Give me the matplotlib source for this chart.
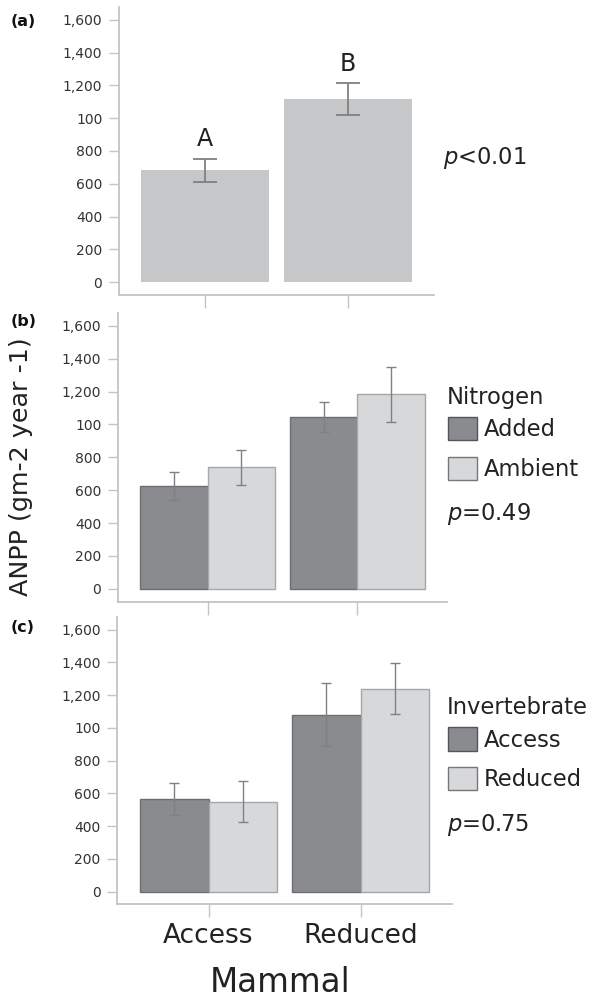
import matplotlib
matplotlib.use("Agg")
import matplotlib.pyplot as plt
from matplotlib.patches import Patch
import numpy as np

# ---------------- data ----------------
mammal = ["Access", "Reduced"]
ytick_vals = [0, 200, 400, 600, 800, 1000, 1200, 1400, 1600]
ytick_labels = ["0", "200", "400", "600", "800", "100", "1,200", "1,400", "1,600"]

# (a) mammal effect
a_mean = [683, 1117]
a_se = [70, 95]
a_letters = ["A", "B"]
a_p = "$p$<0.01"

# (b) nitrogen
nitrogen_levels = ["Added", "Ambient"]
b_added = [625, 1044]
b_added_se = [83, 92]
b_ambient = [739, 1185]
b_ambient_se = [105, 167]
b_p = "$p$=0.49"

# (c) invertebrate
invert_levels = ["Access", "Reduced"]
c_access = [566, 1082]
c_access_se = [100, 192]
c_reduced = [550, 1240]
c_reduced_se = [128, 157]
c_p = "$p$=0.75"

# ---------------- style ----------------
W, H = 592, 997
fig = plt.figure(figsize=(W / 100, H / 100), dpi=100)
plt.rcParams["mathtext.fontset"] = "dejavusans"

spine_col = "#c4c4c4"
txt_col = "#222222"
tick_txt = "#333333"
a_col = "#c6c7c9"
dark_col = "#8a8b8f"
dark_edge = "#6c6d70"
light_col = "#d7d8da"
light_edge = "#a6a7a9"
err_col = "#808080"

def fx(px):
    return px / W

def fy(py):
    return 1 - py / H

def style_axis(ax, show_xlabels=False):
    ax.set_xlim(-0.6, 1.6)
    ax.set_ylim(-78, 1678)
    for s in ["top", "right"]:
        ax.spines[s].set_visible(False)
    for s in ["left", "bottom"]:
        ax.spines[s].set_color(spine_col)
        ax.spines[s].set_linewidth(1.3)
    ax.set_yticks(ytick_vals)
    ax.set_yticklabels(ytick_labels, fontsize=10, color=tick_txt)
    ax.tick_params(axis="y", length=7, width=1, color=spine_col, pad=5)
    ax.set_xticks([0, 1])
    if show_xlabels:
        ax.set_xticklabels(mammal, fontsize=19, color=txt_col)
    else:
        ax.set_xticklabels([])
    ax.tick_params(axis="x", length=9.5, width=1, color=spine_col, pad=4)

# ---------------- panel (a) ----------------
axa = fig.add_axes([fx(119), fy(295), fx(434 - 119), (295 - 7) / H])
x = np.arange(len(mammal))
axa.bar(x, a_mean, width=0.89, color=a_col, edgecolor="none")
axa.errorbar(x, a_mean, yerr=a_se, fmt="none", ecolor=err_col, elinewidth=1.3,
             capsize=8.5, capthick=1.3)
for xi, m, s, lab in zip(x, a_mean, a_se, a_letters):
    axa.annotate(lab, xy=(xi, m + s), xytext=(0, 9), textcoords="offset points",
                 ha="center", va="baseline", fontsize=17, color=txt_col)
style_axis(axa)
fig.text(fx(443), fy(164), a_p, fontsize=16.3, color=txt_col, ha="left", va="baseline")

# ---------------- panel (b) ----------------
axb = fig.add_axes([fx(118), fy(601.7), fx(447 - 118), (601.7 - 313) / H])
bw = 0.45
axb.bar(x - bw / 2, b_added, width=bw, color=dark_col, edgecolor=dark_edge, linewidth=1)
axb.bar(x + bw / 2, b_ambient, width=bw, color=light_col, edgecolor=light_edge, linewidth=1)
axb.errorbar(x - bw / 2, b_added, yerr=b_added_se, fmt="none", ecolor=err_col,
             elinewidth=1, capsize=3.5, capthick=1)
axb.errorbar(x + bw / 2, b_ambient, yerr=b_ambient_se, fmt="none", ecolor=err_col,
             elinewidth=1, capsize=3.5, capthick=1)
style_axis(axb)

# ---------------- panel (c) ----------------
axc = fig.add_axes([fx(117.3), fy(904.3), fx(451.7 - 117.3), (904.3 - 617) / H])
axc.bar(x - bw / 2, c_access, width=bw, color=dark_col, edgecolor=dark_edge, linewidth=1)
axc.bar(x + bw / 2, c_reduced, width=bw, color=light_col, edgecolor=light_edge, linewidth=1)
axc.errorbar(x - bw / 2, c_access, yerr=c_access_se, fmt="none", ecolor=err_col,
             elinewidth=1, capsize=3.5, capthick=1)
axc.errorbar(x + bw / 2, c_reduced, yerr=c_reduced_se, fmt="none", ecolor=err_col,
             elinewidth=1, capsize=3.5, capthick=1)
style_axis(axc, show_xlabels=True)

# ---------------- legends ----------------
leg_fs = 16.3
def add_legend(ax, title, labels, top_px, title_base_px, p_text, p_base_px):
    handles = [Patch(facecolor=dark_col, edgecolor="#555555", linewidth=1),
               Patch(facecolor=light_col, edgecolor="#777777", linewidth=1)]
    leg = ax.legend(handles, labels, loc="upper left",
                    bbox_to_anchor=(fx(447.7), fy(top_px)), bbox_transform=fig.transFigure,
                    frameon=False, fontsize=leg_fs, borderpad=0, borderaxespad=0,
                    handlelength=1.31, handleheight=1.2, handletextpad=0.27,
                    labelspacing=0.69)
    for t in leg.get_texts():
        t.set_color(txt_col)
    fig.text(fx(446.7), fy(title_base_px), title, fontsize=leg_fs, color=txt_col,
             ha="left", va="baseline")
    fig.text(fx(446.7), fy(p_base_px), p_text, fontsize=leg_fs, color=txt_col,
             ha="left", va="baseline")

add_legend(axb, "Nitrogen", nitrogen_levels, 417, 404, b_p, 520)
add_legend(axc, "Invertebrate", invert_levels, 727.3, 714.3, c_p, 830.7)

# ---------------- labels ----------------
for lab, py in [("(a)", 21), ("(b)", 322), ("(c)", 628)]:
    fig.text(fx(11), fy(py), lab, fontsize=11.5, fontweight="bold", color="#111111",
             ha="left", va="center")
fig.text(fx(21), fy(467), "ANPP (gm-2 year -1)", fontsize=18.3, color=txt_col,
         rotation=90, ha="center", va="center")
fig.text(fx(280), fy(982), "Mammal", fontsize=23.5, color=txt_col,
         ha="center", va="center")

fig.savefig("out.png", dpi=100)
